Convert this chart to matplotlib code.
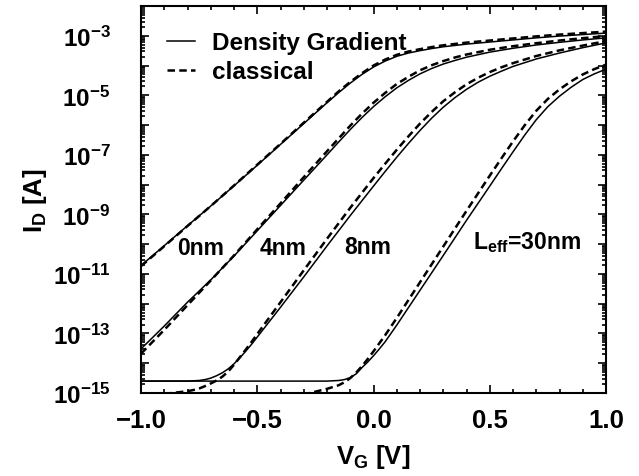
import numpy as np
import matplotlib
matplotlib.use("Agg")
import matplotlib.pyplot as plt
from matplotlib.ticker import FixedLocator, LogLocator, FuncFormatter, MultipleLocator

# Gate voltage grids and log10(I_D) values
v_0nm = [-1.0, -0.9, -0.8, -0.7, -0.6, -0.5, -0.4, -0.3, -0.2, -0.15, -0.1, -0.05, 0.0,
         0.05, 0.1, 0.15, 0.2, 0.25, 0.3, 0.4, 0.5, 0.6, 0.7, 0.8, 0.9, 1.0]
dg_0nm = [-10.72, -10.05, -9.38, -8.72, -8.04, -7.35, -6.65, -5.95, -5.25, -4.91, -4.59, -4.30, -4.05,
          -3.85, -3.69, -3.58, -3.50, -3.43, -3.37, -3.28, -3.21, -3.14, -3.07, -3.01, -2.96, -2.91]
cl_0nm = [-10.74, -10.07, -9.39, -8.72, -8.03, -7.33, -6.63, -5.92, -5.22, -4.87, -4.55, -4.26, -4.00,
          -3.80, -3.64, -3.53, -3.45, -3.38, -3.32, -3.23, -3.16, -3.09, -3.02, -2.96, -2.91, -2.86]

v_4nm = [-1.0, -0.9, -0.8, -0.7, -0.6, -0.5, -0.4, -0.3, -0.2, -0.15, -0.1, -0.05, 0.0,
         0.05, 0.1, 0.15, 0.2, 0.25, 0.3, 0.35, 0.4, 0.5, 0.6, 0.7, 0.8, 0.9, 1.0]
dg_4nm = [-13.52, -12.75, -11.95, -11.20, -10.40, -9.55, -8.70, -7.85, -7.00, -6.57, -6.15, -5.75, -5.38,
          -5.05, -4.75, -4.50, -4.28, -4.10, -3.95, -3.83, -3.72, -3.55, -3.42, -3.31, -3.22, -3.14, -3.07]
cl_4nm = [-13.68, -12.88, -12.05, -11.22, -10.38, -9.50, -8.63, -7.75, -6.88, -6.45, -6.02, -5.62, -5.25,
          -4.92, -4.62, -4.38, -4.16, -3.99, -3.85, -3.73, -3.63, -3.47, -3.35, -3.25, -3.16, -3.08, -3.01]

v_8nm = [-1.0, -0.9, -0.8, -0.775, -0.75, -0.725, -0.7, -0.675, -0.65, -0.625, -0.6,
         -0.575, -0.55, -0.525, -0.5, -0.4, -0.3, -0.2, -0.1, 0.0, 0.05,
         0.1, 0.15, 0.2, 0.25, 0.3, 0.35, 0.4, 0.45, 0.5, 0.55, 0.6, 0.7, 0.8, 0.9, 1.0]
dg_8nm = [-14.60, -14.60, -14.60, -14.59, -14.58, -14.55, -14.50, -14.42, -14.32, -14.19, -14.02,
          -13.82, -13.60, -13.37, -13.12, -12.12, -11.10, -10.06, -9.04, -8.05, -7.56,
          -7.08, -6.62, -6.18, -5.77, -5.40, -5.08, -4.80, -4.56, -4.36, -4.19, -4.03, -3.78, -3.58, -3.40, -3.24]
cl_8nm = [-15.15, -15.03, -14.94, -14.90, -14.85, -14.77, -14.68, -14.58, -14.45, -14.28, -14.05,
          -13.80, -13.55, -13.29, -13.02, -11.95, -10.88, -9.82, -8.78, -7.78, -7.30,
          -6.83, -6.38, -5.95, -5.56, -5.20, -4.90, -4.63, -4.41, -4.22, -4.06, -3.92, -3.68, -3.49, -3.33, -3.18]

v_30nm = [-1.0, -0.6, -0.4, -0.3, -0.2, -0.15, -0.125, -0.1, -0.075, -0.05, -0.025, 0.0,
          0.025, 0.05, 0.1, 0.2, 0.3, 0.4, 0.5, 0.55, 0.6, 0.65, 0.7, 0.75, 0.8, 0.85, 0.9, 0.95, 1.0]
dg_30nm = [-14.60, -14.60, -14.60, -14.60, -14.60, -14.58, -14.55, -14.48, -14.36, -14.15, -13.96, -13.75,
           -13.52, -13.28, -12.72, -11.55, -10.38, -9.20, -8.05, -7.47, -6.90, -6.34, -5.82, -5.38,
           -5.03, -4.73, -4.47, -4.28, -4.12]
cl_30nm = [-16.00, -15.60, -15.30, -15.05, -14.86, -14.74, -14.64, -14.50, -14.32, -14.10, -13.86, -13.60,
           -13.33, -13.06, -12.48, -11.28, -10.08, -8.88, -7.70, -7.12, -6.55, -6.01, -5.52, -5.12,
           -4.80, -4.53, -4.30, -4.12, -3.97]

labels = ["0nm", "4nm", "8nm", r"$\mathrm{L_{eff}}$=30nm"]
label_v = [-0.742, -0.389, -0.024, 0.428]
label_logi = [-10.33, -10.33, -10.30, -10.12]

plt.rcParams["font.family"] = "Liberation Sans"
plt.rcParams["font.weight"] = "bold"
plt.rcParams["mathtext.fontset"] = "custom"
plt.rcParams["mathtext.rm"] = "Liberation Sans:bold"
plt.rcParams["mathtext.bf"] = "Liberation Sans:bold"
plt.rcParams["mathtext.it"] = "Liberation Sans:bold:italic"

fig = plt.figure(figsize=(6.39, 4.77), dpi=100)
ax = fig.add_axes([141 / 639, 83 / 477, 465 / 639, 387 / 477])

solid = dict(color="black", linewidth=1.1)
dashed = dict(color="black", linewidth=1.8, linestyle=(0, (3.0, 1.7)))

curves = [(v_0nm, dg_0nm, cl_0nm), (v_4nm, dg_4nm, cl_4nm),
          (v_8nm, dg_8nm, cl_8nm), (v_30nm, dg_30nm, cl_30nm)]
for i, (v, dg, cl) in enumerate(curves):
    ax.plot(v, 10.0 ** np.array(dg), label="Density Gradient" if i == 0 else None, **solid)
    ax.plot(v, 10.0 ** np.array(cl), label="classical" if i == 0 else None, **dashed)

for txt, xv, yv in zip(labels, label_v, label_logi):
    ax.text(xv, 10.0 ** yv, txt, fontsize=16.5, fontweight="bold",
            ha="left" if "eff" in txt else "center", va="baseline")

ax.set_yscale("log")
ax.set_xlim(-1.0, 1.0)
ax.set_ylim(1e-15, 1e-2)

ax.xaxis.set_major_locator(MultipleLocator(0.5))
ax.xaxis.set_minor_locator(MultipleLocator(0.1))
ax.xaxis.set_major_formatter(FuncFormatter(lambda x, p: f"{x:.1f}".replace("-", "\u2212")))

ax.yaxis.set_major_locator(FixedLocator(10.0 ** np.arange(-15, -1)))
ax.yaxis.set_minor_locator(LogLocator(base=10, subs=np.arange(2, 10), numticks=100))


def _ylab(y, pos):
    e = int(round(np.log10(y)))
    if e % 2 == 0:
        return ""
    return r"$\mathrm{10^{%d}}$" % e


ax.yaxis.set_major_formatter(FuncFormatter(_ylab))

ax.tick_params(which="both", direction="in", top=True, right=True, width=1.2)
ax.tick_params(which="major", length=5.5)
ax.tick_params(which="minor", length=3)
ax.tick_params(axis="x", which="major", pad=11, labelsize=18.5)
ax.tick_params(axis="y", which="major", pad=22, labelsize=17.5)
for s in ax.spines.values():
    s.set_linewidth(1.5)

ax.set_xlabel(r"$\mathrm{V_G}$ [V]", fontsize=18.5, fontweight="bold", labelpad=7)
ax.set_ylabel(r"$\mathrm{I_D}$ [A]", fontsize=18.5, fontweight="bold", labelpad=3)

ax.legend(loc="upper left", bbox_to_anchor=(0.056, 0.935), frameon=False, fontsize=17.5,
          handlelength=1.15, handletextpad=0.7, labelspacing=0.25, borderpad=0,
          borderaxespad=0)

fig.savefig("out.png", dpi=100, facecolor="white")
